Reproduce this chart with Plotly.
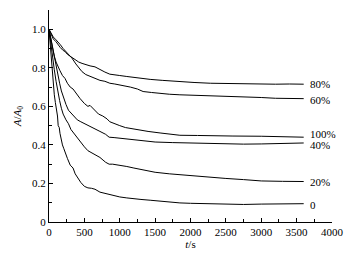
import plotly.graph_objects as go

# Data (t in s, A/A0)
t_0 = [0, 15, 30, 45, 60, 75, 90, 100, 110, 120, 130, 145, 155, 170, 190, 210, 230, 260, 300, 340, 370, 410, 450, 500, 550, 600, 650, 720, 800, 850, 920, 1000, 1100, 1200, 1300, 1430, 1550, 1700, 1850, 2000, 2250, 2500, 2750, 3000, 3300, 3600]
v_0 = [1.0, 0.93, 0.85, 0.78, 0.72, 0.66, 0.62, 0.60, 0.56, 0.55, 0.50, 0.49, 0.46, 0.43, 0.40, 0.38, 0.355, 0.33, 0.295, 0.28, 0.25, 0.225, 0.205, 0.185, 0.177, 0.175, 0.17, 0.155, 0.148, 0.14, 0.137, 0.13, 0.125, 0.12, 0.117, 0.113, 0.108, 0.102, 0.099, 0.097, 0.094, 0.092, 0.091, 0.093, 0.094, 0.095]

t_20 = [0, 25, 50, 75, 100, 125, 150, 175, 200, 240, 275, 310, 350, 400, 450, 500, 550, 600, 650, 720, 800, 850, 900, 1000, 1100, 1200, 1350, 1500, 1700, 2000, 2250, 2500, 2750, 3000, 3300, 3600]
v_20 = [1.0, 0.92, 0.85, 0.79, 0.73, 0.67, 0.63, 0.59, 0.56, 0.53, 0.51, 0.48, 0.46, 0.44, 0.41, 0.39, 0.37, 0.36, 0.35, 0.335, 0.31, 0.30, 0.30, 0.295, 0.288, 0.28, 0.268, 0.258, 0.25, 0.24, 0.233, 0.226, 0.22, 0.213, 0.211, 0.21]

t_40 = [0, 25, 50, 75, 100, 125, 150, 175, 200, 240, 275, 320, 350, 400, 450, 500, 550, 620, 720, 800, 850, 920, 1000, 1100, 1200, 1350, 1500, 1750, 2000, 2250, 2500, 2750, 3000, 3300, 3600]
v_40 = [1.0, 0.95, 0.90, 0.85, 0.80, 0.76, 0.72, 0.68, 0.65, 0.61, 0.58, 0.56, 0.55, 0.53, 0.52, 0.51, 0.50, 0.49, 0.47, 0.455, 0.44, 0.438, 0.435, 0.43, 0.425, 0.42, 0.415, 0.412, 0.41, 0.407, 0.405, 0.404, 0.405, 0.408, 0.41]

t_100 = [0, 25, 50, 75, 100, 130, 155, 190, 226, 260, 300, 340, 380, 410, 440, 500, 550, 580, 650, 700, 760, 820, 860, 920, 1000, 1080, 1150, 1250, 1400, 1570, 1700, 1850, 2100, 2300, 2600, 3000, 3300, 3600]
v_100 = [1.0, 0.95, 0.90, 0.86, 0.83, 0.80, 0.785, 0.76, 0.745, 0.72, 0.70, 0.69, 0.67, 0.65, 0.64, 0.615, 0.60, 0.605, 0.58, 0.56, 0.55, 0.535, 0.52, 0.51, 0.50, 0.49, 0.485, 0.478, 0.47, 0.462, 0.456, 0.45, 0.449, 0.447, 0.446, 0.445, 0.443, 0.44]

t_60 = [0, 30, 60, 100, 127, 160, 200, 250, 300, 325, 380, 420, 467, 520, 580, 650, 720, 790, 860, 930, 1000, 1150, 1250, 1330, 1450, 1570, 1700, 1850, 2050, 2280, 2500, 2800, 3000, 3200, 3400, 3600]
v_60 = [1.0, 0.98, 0.96, 0.945, 0.935, 0.92, 0.90, 0.88, 0.86, 0.85, 0.82, 0.80, 0.78, 0.765, 0.755, 0.745, 0.735, 0.73, 0.72, 0.716, 0.712, 0.70, 0.69, 0.677, 0.672, 0.667, 0.663, 0.66, 0.658, 0.655, 0.652, 0.648, 0.646, 0.642, 0.641, 0.64]

t_80 = [0, 30, 60, 100, 127, 160, 200, 226, 260, 300, 368, 420, 467, 520, 580, 650, 720, 790, 860, 930, 1000, 1100, 1200, 1300, 1430, 1600, 1850, 2050, 2280, 2500, 2800, 3000, 3200, 3400, 3600]
v_80 = [1.0, 0.97, 0.95, 0.935, 0.92, 0.905, 0.89, 0.885, 0.87, 0.86, 0.84, 0.83, 0.823, 0.815, 0.81, 0.805, 0.79, 0.778, 0.767, 0.762, 0.76, 0.755, 0.75, 0.745, 0.74, 0.735, 0.727, 0.724, 0.72, 0.718, 0.716, 0.715, 0.715, 0.716, 0.715]

labels = ["80%", "60%", "100%", "40%", "20%", "0"]
label_y = [0.715, 0.632, 0.455, 0.400, 0.205, 0.087]

series = [(t_0, v_0), (t_20, v_20), (t_40, v_40), (t_100, v_100), (t_60, v_60), (t_80, v_80)]

FONT = "'Liberation Serif', 'Times New Roman', serif"
FS = 11

fig = go.Figure()
for tx, vy in series:
    fig.add_trace(go.Scatter(x=tx, y=vy, mode="lines",
                             line=dict(color="black", width=1),
                             showlegend=False, hoverinfo="skip"))

for lab, ly in zip(labels, label_y):
    fig.add_annotation(x=3660, y=ly, text=lab, showarrow=False,
                       xanchor="left", yanchor="middle",
                       font=dict(family=FONT, size=FS, color="black"))

axis_common = dict(
    showgrid=False, zeroline=False, showline=True, linecolor="black",
    linewidth=1, ticks="inside", ticklen=4, tickcolor="black", tickwidth=1,
    tickfont=dict(family=FONT, size=FS, color="black"),
    mirror=False, automargin=False,
)

fig.update_xaxes(range=[0, 4000], tickvals=[0, 500, 1000, 1500, 2000, 2500, 3000, 3500, 4000],
                 minor=dict(dtick=250, ticks="inside", ticklen=3, tickcolor="black"),
                 title=dict(text="<i>t</i>/s", font=dict(family=FONT, size=FS, color="black"), standoff=1),
                 **axis_common)
fig.update_yaxes(range=[0, 1.1], tickvals=[0, 0.2, 0.4, 0.6, 0.8, 1.0],
                 ticktext=["0", "0.2", "0.4", "0.6", "0.8", "1.0"],
                 minor=dict(tickvals=[0.1, 0.3, 0.5, 0.7, 0.9], ticks="inside", ticklen=3, tickcolor="black"),
                 title=dict(text="<i>A</i>/<i>A</i><sub>0</sub>", font=dict(family=FONT, size=FS, color="black"), standoff=8),
                 **axis_common)

# The page has an 8px body margin, so the figure is sized/offset to compensate.
fig.update_layout(width=349, height=249, margin=dict(l=41, r=25, t=2, b=35),
                  plot_bgcolor="white", paper_bgcolor="white",
                  font=dict(family=FONT, size=FS, color="black"))

fig.write_html("out.html")
